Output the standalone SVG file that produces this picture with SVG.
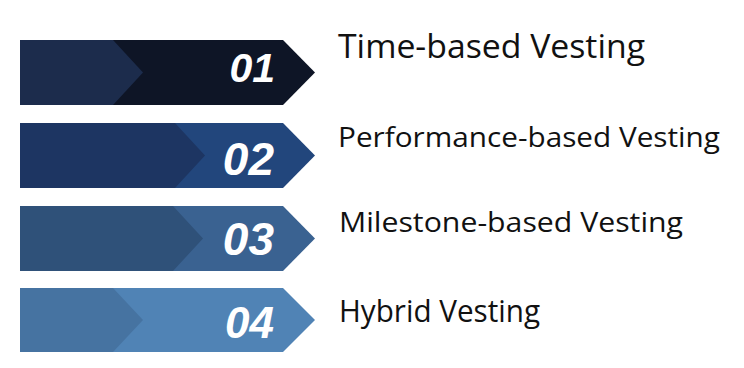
<svg xmlns="http://www.w3.org/2000/svg" width="744" height="368" viewBox="0 0 744 368">
<style>
.num{font-family:"Liberation Sans",Arial,sans-serif;font-weight:bold;font-style:italic;fill:#ffffff;text-anchor:end}
.lbl{font-family:"Open Sans","Noto Sans",sans-serif;fill:#111111}
</style>
<rect width="744" height="368" fill="#ffffff"/>
<g id="step1">
<polygon points="20,40 283,40 315,72.5 283,105 20,105" fill="#0e1526"/>
<polygon points="20,40 113,40 143,72.5 113,105 20,105" fill="#1c2c4c"/>
<text class="num" x="275" y="82" font-size="41">01</text>
<text class="lbl" x="338" y="58" font-size="33" textLength="307" lengthAdjust="spacingAndGlyphs">Time-based Vesting</text>
</g>
<g id="step2">
<polygon points="20,123 283,123 315,155.5 283,188 20,188" fill="#22467c"/>
<polygon points="20,123 175,123 205,155.5 175,188 20,188" fill="#1d3562"/>
<text class="num" x="274" y="175" font-size="46">02</text>
<text class="lbl" x="338" y="147" font-size="27" textLength="382" lengthAdjust="spacingAndGlyphs">Performance-based Vesting</text>
</g>
<g id="step3">
<polygon points="20,206 283,206 315,238.5 283,271 20,271" fill="#3a6291"/>
<polygon points="20,206 173,206 203,238.5 173,271 20,271" fill="#2f5179"/>
<text class="num" x="274" y="255" font-size="46">03</text>
<text class="lbl" x="339" y="232" font-size="27" textLength="344" lengthAdjust="spacingAndGlyphs">Milestone-based Vesting</text>
</g>
<g id="step4">
<polygon points="20,288 283,288 315,320 283,352 20,352" fill="#5083b5"/>
<polygon points="20,288 113,288 143,320 113,352 20,352" fill="#4673a1"/>
<text class="num" x="274" y="338" font-size="44">04</text>
<text class="lbl" x="339" y="322" font-size="31" textLength="201" lengthAdjust="spacingAndGlyphs">Hybrid Vesting</text>
</g>
<g id="connectors"></g>
</svg>
